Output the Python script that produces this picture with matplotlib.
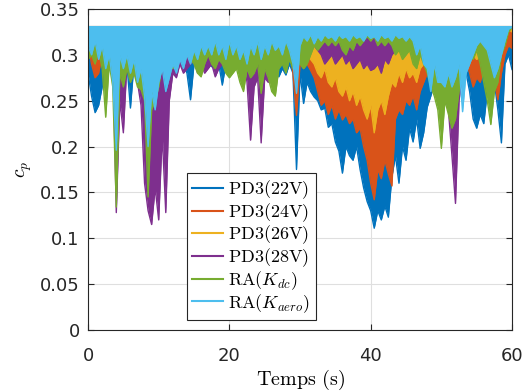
import matplotlib
matplotlib.use('Agg')
import matplotlib.pyplot as plt
import numpy as np

# time base (s) and lower envelope of each cp trace, read every 0.5 s
TIME = np.linspace(0, 60, 121)
CP_MAX = 0.332

cp_pd3_22 = [0.280, 0.255, 0.237, 0.245, 0.265, 0.280, 0.290, 0.300, 0.300, 0.300,
             0.280, 0.290, 0.242, 0.290, 0.300, 0.290, 0.300, 0.300, 0.290, 0.300,
             0.300, 0.310, 0.300, 0.310, 0.300, 0.305, 0.300, 0.290, 0.280, 0.251,
             0.290, 0.300, 0.295, 0.300, 0.295, 0.287, 0.300, 0.290, 0.267, 0.290,
             0.300, 0.290, 0.287, 0.300, 0.310, 0.300, 0.310, 0.305, 0.310, 0.300,
             0.310, 0.300, 0.305, 0.300, 0.276, 0.285, 0.278, 0.290, 0.280, 0.175,
             0.280, 0.247, 0.270, 0.260, 0.254, 0.250, 0.240, 0.242, 0.221, 0.225,
             0.205, 0.195, 0.171, 0.200, 0.190, 0.185, 0.200, 0.175, 0.155, 0.140,
             0.130, 0.111, 0.130, 0.120, 0.135, 0.123, 0.167, 0.190, 0.160, 0.200,
             0.185, 0.220, 0.205, 0.230, 0.198, 0.215, 0.243, 0.255, 0.270, 0.280,
             0.290, 0.300, 0.295, 0.300, 0.305, 0.300, 0.290, 0.280, 0.260, 0.230,
             0.220, 0.235, 0.225, 0.260, 0.280, 0.270, 0.240, 0.204, 0.290, 0.300,
             0.284]

cp_pd3_24 = [0.310, 0.290, 0.275, 0.280, 0.300, 0.310, 0.310, 0.312, 0.310, 0.312,
             0.310, 0.312, 0.310, 0.312, 0.310, 0.312, 0.310, 0.312, 0.310, 0.300,
             0.310, 0.312, 0.310, 0.312, 0.310, 0.312, 0.310, 0.312, 0.310, 0.312,
             0.310, 0.312, 0.310, 0.312, 0.310, 0.312, 0.310, 0.312, 0.310, 0.312,
             0.310, 0.312, 0.310, 0.312, 0.310, 0.312, 0.310, 0.312, 0.310, 0.312,
             0.310, 0.310, 0.310, 0.310, 0.300, 0.310, 0.300, 0.310, 0.280, 0.234,
             0.290, 0.285, 0.290, 0.283, 0.275, 0.260, 0.245, 0.250, 0.235, 0.245,
             0.230, 0.240, 0.229, 0.235, 0.225, 0.230, 0.215, 0.220, 0.200, 0.185,
             0.160, 0.142, 0.175, 0.165, 0.185, 0.170, 0.157, 0.230, 0.240, 0.235,
             0.250, 0.245, 0.255, 0.240, 0.260, 0.270, 0.280, 0.285, 0.295, 0.300,
             0.305, 0.310, 0.305, 0.310, 0.305, 0.300, 0.305, 0.295, 0.280, 0.265,
             0.275, 0.270, 0.285, 0.290, 0.295, 0.270, 0.251, 0.280, 0.300, 0.310,
             0.307]

cp_pd3_26 = [0.310, 0.315, 0.310, 0.315, 0.310, 0.315, 0.310, 0.315, 0.310, 0.315,
             0.310, 0.315, 0.310, 0.315, 0.310, 0.315, 0.310, 0.315, 0.310, 0.305,
             0.310, 0.315, 0.310, 0.315, 0.310, 0.315, 0.310, 0.315, 0.310, 0.315,
             0.310, 0.315, 0.310, 0.315, 0.310, 0.315, 0.310, 0.315, 0.310, 0.315,
             0.310, 0.315, 0.310, 0.315, 0.310, 0.315, 0.310, 0.315, 0.310, 0.315,
             0.310, 0.315, 0.310, 0.315, 0.310, 0.315, 0.310, 0.315, 0.310, 0.315,
             0.310, 0.305, 0.300, 0.295, 0.290, 0.280, 0.275, 0.285, 0.270, 0.265,
             0.275, 0.260, 0.255, 0.265, 0.250, 0.260, 0.245, 0.255, 0.240, 0.230,
             0.245, 0.215, 0.240, 0.250, 0.235, 0.255, 0.270, 0.265, 0.280, 0.270,
             0.285, 0.275, 0.280, 0.270, 0.285, 0.290, 0.300, 0.295, 0.305, 0.300,
             0.310, 0.310, 0.300, 0.310, 0.305, 0.310, 0.300, 0.310, 0.305, 0.300,
             0.295, 0.300, 0.310, 0.305, 0.310, 0.320, 0.315, 0.320, 0.330, 0.328,
             0.325]

cp_pd3_28 = [0.300, 0.305, 0.300, 0.310, 0.300, 0.305, 0.295, 0.300, 0.128, 0.250,
             0.215, 0.290, 0.275, 0.285, 0.270, 0.245, 0.160, 0.130, 0.115, 0.155,
             0.120, 0.213, 0.128, 0.250, 0.280, 0.275, 0.290, 0.280, 0.285, 0.290,
             0.295, 0.280, 0.290, 0.280, 0.285, 0.290, 0.276, 0.285, 0.290, 0.295,
             0.300, 0.295, 0.300, 0.290, 0.295, 0.270, 0.207, 0.265, 0.275, 0.204,
             0.275, 0.270, 0.280, 0.290, 0.295, 0.300, 0.295, 0.300, 0.290, 0.295,
             0.300, 0.305, 0.310, 0.305, 0.310, 0.305, 0.300, 0.290, 0.295, 0.300,
             0.290, 0.295, 0.300, 0.290, 0.295, 0.285, 0.290, 0.295, 0.285, 0.290,
             0.283, 0.285, 0.290, 0.280, 0.295, 0.290, 0.300, 0.305, 0.310, 0.305,
             0.310, 0.315, 0.310, 0.315, 0.310, 0.305, 0.310, 0.300, 0.290, 0.280,
             0.265, 0.255, 0.240, 0.190, 0.138, 0.250, 0.280, 0.297, 0.300, 0.310,
             0.310, 0.315, 0.310, 0.315, 0.310, 0.305, 0.310, 0.315, 0.320, 0.328,
             0.330]

cp_ra_kdc = [0.295, 0.300, 0.290, 0.305, 0.285, 0.232, 0.290, 0.265, 0.134, 0.280,
             0.265, 0.285, 0.270, 0.280, 0.265, 0.262, 0.250, 0.145, 0.240, 0.250,
             0.265, 0.290, 0.280, 0.290, 0.285, 0.295, 0.300, 0.290, 0.300, 0.295,
             0.290, 0.280, 0.276, 0.290, 0.300, 0.290, 0.285, 0.295, 0.290, 0.280,
             0.275, 0.280, 0.285, 0.270, 0.260, 0.285, 0.275, 0.280, 0.290, 0.258,
             0.285, 0.275, 0.260, 0.255, 0.285, 0.290, 0.280, 0.295, 0.285, 0.290,
             0.290, 0.285, 0.290, 0.300, 0.310, 0.305, 0.310, 0.315, 0.310, 0.315,
             0.310, 0.315, 0.305, 0.300, 0.310, 0.305, 0.315, 0.310, 0.315, 0.320,
             0.315, 0.320, 0.310, 0.315, 0.310, 0.315, 0.310, 0.300, 0.305, 0.295,
             0.300, 0.305, 0.290, 0.285, 0.300, 0.290, 0.280, 0.265, 0.255, 0.240,
             0.198, 0.250, 0.235, 0.220, 0.230, 0.260, 0.280, 0.290, 0.300, 0.295,
             0.305, 0.290, 0.270, 0.250, 0.224, 0.260, 0.270, 0.300, 0.310, 0.325,
             0.330]

cp_ra_kaero = [0.310, 0.300, 0.315, 0.295, 0.310, 0.285, 0.300, 0.270, 0.196, 0.300,
               0.285, 0.300, 0.280, 0.295, 0.270, 0.285, 0.255, 0.200, 0.260, 0.240,
               0.270, 0.285, 0.260, 0.275, 0.290, 0.280, 0.295, 0.285, 0.300, 0.290,
               0.305, 0.295, 0.310, 0.300, 0.310, 0.300, 0.315, 0.300, 0.310, 0.295,
               0.315, 0.300, 0.310, 0.295, 0.305, 0.290, 0.310, 0.300, 0.315, 0.295,
               0.310, 0.300, 0.315, 0.305, 0.310, 0.300, 0.315, 0.305, 0.290, 0.258,
               0.310, 0.320, 0.315, 0.322, 0.312, 0.320, 0.315, 0.322, 0.318, 0.320,
               0.315, 0.322, 0.318, 0.320, 0.315, 0.322, 0.318, 0.320, 0.315, 0.322,
               0.318, 0.320, 0.315, 0.322, 0.318, 0.320, 0.315, 0.322, 0.318, 0.320,
               0.315, 0.320, 0.315, 0.300, 0.310, 0.290, 0.285, 0.260, 0.290, 0.270,
               0.270, 0.265, 0.280, 0.265, 0.275, 0.290, 0.238, 0.280, 0.290, 0.300,
               0.310, 0.315, 0.310, 0.305, 0.290, 0.275, 0.285, 0.300, 0.315, 0.328,
               0.330]

labels = [r'$\mathrm{PD3(22V)}$', r'$\mathrm{PD3(24V)}$', r'$\mathrm{PD3(26V)}$',
          r'$\mathrm{PD3(28V)}$', r'$\mathrm{RA}(K_{dc})$', r'$\mathrm{RA}(K_{aero})$']
colors = ['#0072BD', '#D95319', '#EDB120', '#7E2F8E', '#77AC30', '#4DBEEE']
series = [cp_pd3_22, cp_pd3_24, cp_pd3_26, cp_pd3_28, cp_ra_kdc, cp_ra_kaero]

plt.rcParams['mathtext.fontset'] = 'cm'

fig = plt.figure(figsize=(5.29, 3.92), dpi=100)
ax = fig.add_axes([0.1664, 0.1582, 0.8015, 0.8189])

# each trace is drawn over the previous ones, as in the original plot order
for i, (lo, c, lab) in enumerate(zip(series, colors, labels)):
    ax.fill_between(TIME, lo, CP_MAX, color=c, lw=0, zorder=2 + 2 * i)
    ax.plot(TIME, lo, color=c, lw=1.0, label=lab, zorder=3 + 2 * i)

ax.set_xlim(0, 60)
ax.set_ylim(0, 0.35)
ax.set_xticks([0, 20, 40, 60])
yt = [0, 0.05, 0.1, 0.15, 0.2, 0.25, 0.3, 0.35]
ax.set_yticks(yt)
ax.set_yticklabels(['%g' % v for v in yt])
ax.grid(True, color='#dfdfdf', lw=0.8)
ax.set_axisbelow(True)
ax.tick_params(direction='in', top=True, right=True, length=4, width=0.8,
               labelsize=13, colors='#262626')
ax.tick_params(axis='x', pad=12)
ax.tick_params(axis='y', pad=6)
for s in ax.spines.values():
    s.set_color('#262626')
    s.set_linewidth(0.8)
    s.set_zorder(30)

ax.set_xlabel(r'$\mathrm{Temps\ (s)}$', fontsize=14.5, labelpad=2)
ax.set_ylabel(r'$c_p$', fontsize=14)

leg = ax.legend(loc='lower left', bbox_to_anchor=(0.233, 0.031), fontsize=13,
                fancybox=False, framealpha=1, edgecolor='#262626',
                handlelength=1.7, labelspacing=0.0, borderpad=0.3,
                handletextpad=0.3, borderaxespad=0)
leg.get_frame().set_linewidth(0.8)
leg.set_zorder(40)
for h in leg.get_lines():
    h.set_linewidth(1.5)

fig.savefig('out.png', dpi=100)
